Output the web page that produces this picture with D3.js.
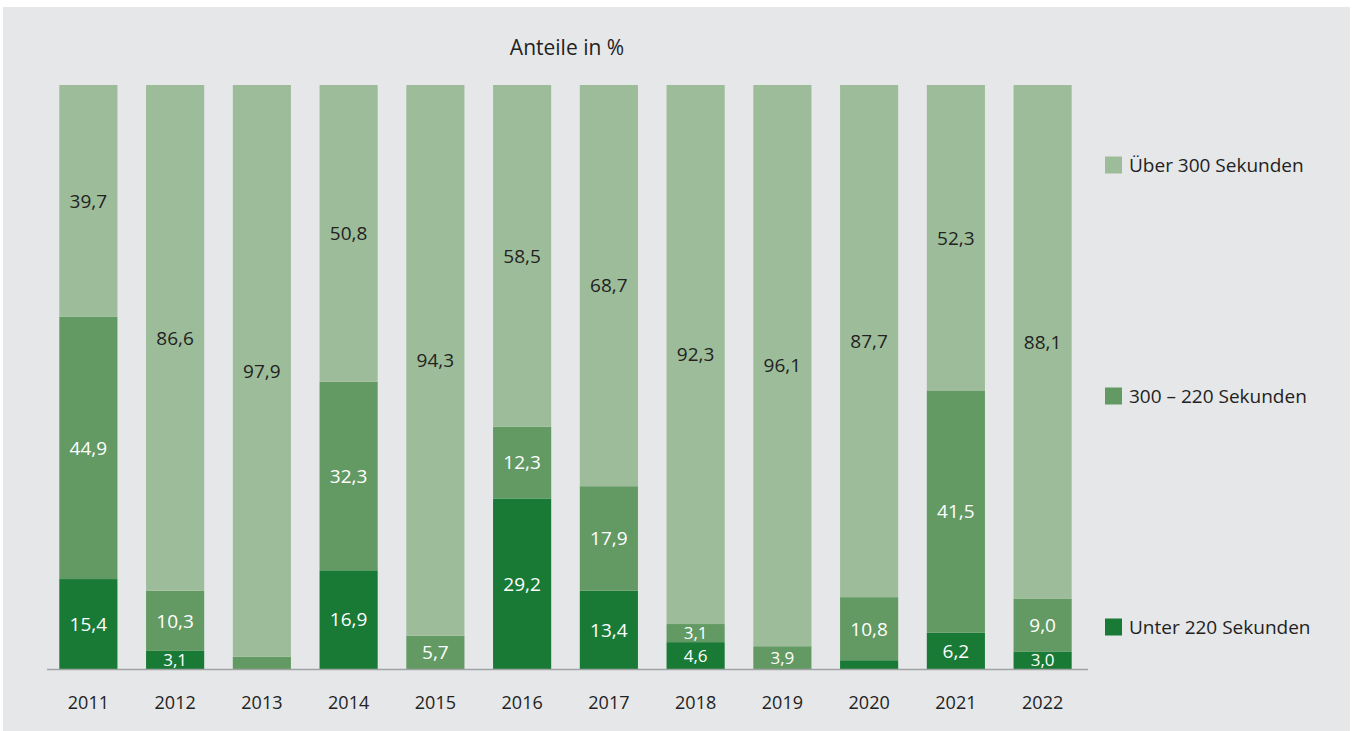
<!DOCTYPE html>
<html>
<head>
<meta charset="utf-8">
<script src="https://cdn.jsdelivr.net/npm/d3@7"></script>
<style>
  body { margin: 0; background: #fff; }
  svg { display: block; font-family: "Open Sans", sans-serif; }
</style>
</head>
<body>
<svg width="1353" height="731"></svg>
<script>
// Data (shares in %)
const years = ["2011", "2012", "2013", "2014", "2015", "2016", "2017", "2018", "2019", "2020", "2021", "2022"];
const unter220 = [15.4, 3.1, 0, 16.9, 0, 29.2, 13.4, 4.6, 0, 1.5, 6.2, 3.0];
const mid300220 = [44.9, 10.3, 2.1, 32.3, 5.7, 12.3, 17.9, 3.1, 3.9, 10.8, 41.5, 9.0];
const ueber300 = [39.7, 86.6, 97.9, 50.8, 94.3, 58.5, 68.7, 92.3, 96.1, 87.7, 52.3, 88.1];
const seriesNames = ["Unter 220 Sekunden", "300 – 220 Sekunden", "Über 300 Sekunden"];

const colors = ["#197a36", "#639a63", "#9dbd9a"];
const labelColors = ["#fff", "#fff", "#222"];

const svg = d3.select("svg");

// Background panel
svg.append("rect")
    .attr("x", 3).attr("y", 7)
    .attr("width", 1347).attr("height", 724)
    .attr("fill", "#e6e7e9");

const plotTop = 85, baseline = 669;

const x = d3.scaleBand()
    .domain(years)
    .range([45, 1086])
    .paddingInner(0.33)
    .paddingOuter(0.165);

const y = d3.scaleLinear()
    .domain([0, 100])
    .range([baseline, plotTop]);

// Build stacked table
const table = years.map((yr, i) => ({
    year: yr, s0: unter220[i], s1: mid300220[i], s2: ueber300[i]
}));
const stack = d3.stack().keys(["s0", "s1", "s2"])(table);

// Clip labels to the plot area
svg.append("defs").append("clipPath").attr("id", "plot")
    .append("rect").attr("x", 0).attr("y", 0).attr("width", 1353).attr("height", baseline);

const layers = svg.selectAll("g.layer")
    .data(stack)
    .join("g")
    .attr("class", "layer")
    .attr("fill", (d, i) => colors[i]);

layers.selectAll("rect")
    .data(d => d)
    .join("rect")
    .attr("x", d => x(d.data.year))
    .attr("width", x.bandwidth())
    .attr("y", d => y(Math.min(d[1], 100)))
    .attr("height", d => y(d[0]) - y(Math.min(d[1], 100)));

// Value labels (thin segments get a slightly smaller font)
const labels = svg.append("g").attr("clip-path", "url(#plot)");
stack.forEach((layer, li) => {
    labels.selectAll(null)
        .data(layer.filter(d => d[1] - d[0] >= 3))
        .join("text")
        .attr("x", d => x(d.data.year) + x.bandwidth() / 2)
        .attr("y", d => (y(d[0]) + y(Math.min(d[1], 100))) / 2)
        .attr("dy", "0.36em")
        .attr("text-anchor", "middle")
        .attr("fill", labelColors[li])
        .style("font-size", d => (d[1] - d[0] < 5 ? "17px" : "19px"))
        .text(d => d3.format(".1f")(d[1] - d[0]).replace(".", ","));
});

// Baseline axis
const axis = svg.append("g")
    .attr("transform", `translate(0,${baseline})`)
    .call(d3.axisBottom(x).tickSize(0).tickPadding(27).tickSizeOuter(0));
axis.select(".domain")
    .attr("stroke", "#a0a2a5")
    .attr("stroke-width", 1.5)
    .attr("d", "M47,0.5H1088");
axis.selectAll("text")
    .attr("fill", "#222")
    .style("font-size", "18px")
    .style("font-family", "'Open Sans', sans-serif");

// Title
svg.append("text")
    .attr("x", 567)
    .attr("y", 47)
    .attr("dy", "0.36em")
    .attr("text-anchor", "middle")
    .attr("fill", "#222")
    .style("font-size", "21px")
    .text("Anteile in %");

// Legend (top to bottom: Über, 300–220, Unter)
const legendOrder = [2, 1, 0];
const legend = svg.selectAll("g.legend")
    .data(legendOrder)
    .join("g")
    .attr("class", "legend")
    .attr("transform", (d, i) => `translate(1105,${165 + i * 231})`);

legend.append("rect")
    .attr("x", 0).attr("y", -8.5)
    .attr("width", 17).attr("height", 17)
    .attr("fill", d => colors[d]);

legend.append("text")
    .attr("x", 24)
    .attr("dy", "0.36em")
    .attr("fill", "#222")
    .style("font-size", "19px")
    .text(d => seriesNames[d]);
</script>
</body>
</html>
